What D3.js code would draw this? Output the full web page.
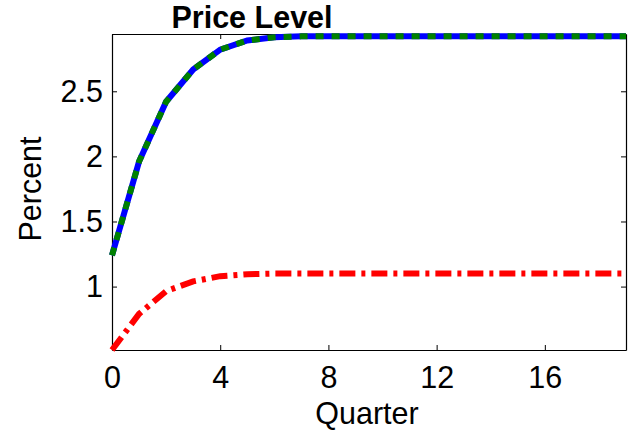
<!DOCTYPE html>
<html>
<head>
<meta charset="utf-8">
<script src="https://cdn.jsdelivr.net/npm/d3@7"></script>
<style>
  body { margin: 0; background: #fff; }
  text { font-family: "Liberation Sans", Arial, sans-serif; }
</style>
</head>
<body>
<div id="chart"></div>
<script>
// quarters 0..19
var quarters = d3.range(0, 20);
// blue/green curve (two series that coincide)
var blueValues = [1.24, 1.96, 2.42, 2.667, 2.82, 2.89, 2.915, 2.922, 2.923, 2.923,
  2.923, 2.923, 2.923, 2.923, 2.923, 2.923, 2.923, 2.923, 2.923, 2.923];
var greenValues = blueValues.slice();
// red dash-dot curve
var redValues = [0.513, 0.79, 0.965, 1.04, 1.08, 1.095, 1.1, 1.1, 1.1, 1.1,
  1.1, 1.1, 1.1, 1.1, 1.1, 1.1, 1.1, 1.1, 1.1, 1.1];
var xTicks = [0, 4, 8, 12, 16];
var yTicks = [1, 1.5, 2, 2.5];

var margin = { top: 34, right: 12, bottom: 84, left: 112 },
  width = 638 - margin.left - margin.right,
  height = 434 - margin.top - margin.bottom;

var fontSize = 30.5;

var svg = d3.select("#chart")
  .append("svg")
  .attr("width", 638)
  .attr("height", 434)
  .append("g")
  .attr("transform", "translate(" + margin.left + "," + margin.top + ")");

var x = d3.scaleLinear().domain([0, 19]).range([0, width]);
var y = d3.scaleLinear().domain([0.513, 2.94]).range([height, 0]);

// axes box with inward ticks on all four sides
svg.append("g")
  .attr("transform", "translate(0," + height + ")")
  .call(d3.axisBottom(x).tickValues(xTicks).tickSizeInner(-5).tickSizeOuter(0).tickPadding(16));
svg.append("g")
  .call(d3.axisTop(x).tickValues(xTicks).tickSizeInner(-5).tickSizeOuter(0).tickFormat(""));
svg.append("g")
  .call(d3.axisLeft(y).tickValues(yTicks).tickSizeInner(-5).tickSizeOuter(0).tickPadding(9).tickFormat(d3.format("")));
svg.append("g")
  .attr("transform", "translate(" + width + ",0)")
  .call(d3.axisRight(y).tickValues(yTicks).tickSizeInner(-5).tickSizeOuter(0).tickFormat(""));

svg.selectAll(".domain").attr("stroke", "#000").attr("stroke-width", 1.2);
svg.selectAll(".tick line").attr("stroke", "#000");
svg.selectAll(".tick text").attr("font-size", fontSize).attr("fill", "#000")
  .attr("font-family", "Liberation Sans, Arial, sans-serif");

var line = d3.line()
  .x(function (d, i) { return x(quarters[i]); })
  .y(function (d) { return y(d); });

// red dash-dot
svg.append("path")
  .datum(redValues)
  .attr("d", line)
  .attr("fill", "none")
  .attr("stroke", "#ff0000")
  .attr("stroke-width", 6)
  .attr("stroke-dasharray", "16,6,4,6");

// blue solid
svg.append("path")
  .datum(blueValues)
  .attr("d", line)
  .attr("fill", "none")
  .attr("stroke", "#0000ff")
  .attr("stroke-width", 6);

// green dashed on top
svg.append("path")
  .datum(greenValues)
  .attr("d", line)
  .attr("fill", "none")
  .attr("stroke", "#008000")
  .attr("stroke-width", 6)
  .attr("stroke-dasharray", "8,8");

// title and labels
svg.append("text")
  .attr("x", 252 - margin.left)
  .attr("y", 28 - margin.top)
  .attr("text-anchor", "middle")
  .attr("font-size", 30.5)
  .attr("font-weight", "bold")
  .text("Price Level");

svg.append("text")
  .attr("x", 367 - margin.left)
  .attr("y", 424 - margin.top)
  .attr("text-anchor", "middle")
  .attr("font-size", fontSize)
  .text("Quarter");

svg.append("text")
  .attr("transform", "rotate(-90)")
  .attr("x", -(189 - margin.top))
  .attr("y", 41 - margin.left)
  .attr("text-anchor", "middle")
  .attr("font-size", fontSize)
  .text("Percent");
</script>
</body>
</html>
